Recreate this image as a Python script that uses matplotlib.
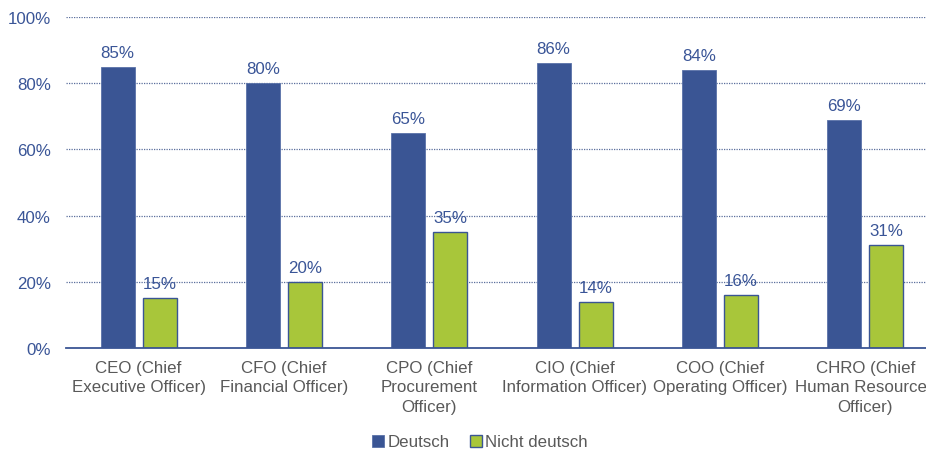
import matplotlib
matplotlib.use("Agg")
import matplotlib.pyplot as plt
import numpy as np

categories = ["CEO (Chief\nExecutive Officer)", "CFO (Chief\nFinancial Officer)",
              "CPO (Chief\nProcurement\nOfficer)", "CIO (Chief\nInformation Officer)",
              "COO (Chief\nOperating Officer)", "CHRO (Chief\nHuman Resources\nOfficer)"]
deutsch = [85, 80, 65, 86, 84, 69]
nicht_deutsch = [15, 20, 35, 14, 16, 31]
series_names = ["Deutsch", "Nicht deutsch"]
yticks = [0, 20, 40, 60, 80, 100]

plt.rcParams['font.family'] = ['Liberation Sans', 'DejaVu Sans']
BLUE = "#3a5594"
GREEN = "#a8c63a"
TXT_BLUE = "#3a5597"
GRAY = "#595959"
FS = 12.2

fig = plt.figure(figsize=(9.26, 4.52), dpi=100)
ax = fig.add_axes([66/926, (452-349)/452, (938-66)/926, 331/452])

x = np.arange(len(categories))
w = 0.234
off = 0.145
b1 = ax.bar(x - off, deutsch, w, color=BLUE, edgecolor="#5a72a8", linewidth=0.6, zorder=3, label=series_names[0])
b2 = ax.bar(x + off, nicht_deutsch, w, color=GREEN, edgecolor=BLUE, linewidth=1.0, zorder=3, label=series_names[1])

for rect, v in zip(list(b1) + list(b2), deutsch + nicht_deutsch):
    ax.annotate(f"{v}%", (rect.get_x() + rect.get_width()/2, v), xytext=(0, 5),
                textcoords="offset points", ha="center", va="bottom",
                fontsize=FS, color=TXT_BLUE, zorder=4)

ax.set_xlim(-0.5, len(categories) - 0.5)
ax.set_ylim(0, 100)
ax.set_yticks(yticks)
ax.set_yticklabels([f"{t}%" for t in yticks], fontsize=FS, color=TXT_BLUE)
ax.set_xticks(x)
ax.set_xticklabels(categories, fontsize=FS, color=GRAY, linespacing=1.38)
ax.tick_params(axis="both", length=0)
ax.tick_params(axis="y", pad=11)
ax.tick_params(axis="x", pad=8.5)

for t in yticks[1:]:
    ax.axhline(t, color="#5a6e9c", linestyle=(0, (1, 1)), linewidth=0.9, zorder=1)

for s in ["top", "right", "left"]:
    ax.spines[s].set_visible(False)
ax.spines["bottom"].set_color(BLUE)
ax.spines["bottom"].set_linewidth(1.3)
ax.spines["bottom"].set_zorder(5)

leg = fig.legend(handles=[b1, b2], labels=series_names, loc="center", bbox_to_anchor=(480/926, 1 - 443/452),
                 ncol=2, frameon=False, fontsize=FS, handlelength=0.7, handleheight=0.7,
                 handletextpad=0.2, columnspacing=1.2)
for t in leg.get_texts():
    t.set_color(GRAY)

fig.savefig("out.png", dpi=100)
